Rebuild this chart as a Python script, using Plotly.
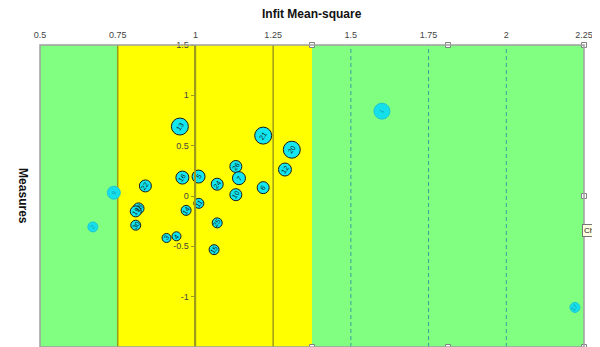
import plotly.graph_objects as go

# ---- data ----
infit = [0.950, 0.958, 1.010, 0.839, 0.817, 0.808, 0.808, 0.970, 1.011, 0.907, 0.939,
         1.060, 1.070, 1.070, 1.218, 1.310, 1.288, 1.130, 1.140, 1.130, 1.218]
measure = [0.69, 0.183, 0.193, 0.10, -0.123, -0.153, -0.29, -0.143, -0.073, -0.417, -0.40,
           -0.533, 0.117, -0.267, 0.60, 0.46, 0.263, 0.293, 0.177, 0.013, 0.083]
size = [17, 13, 13, 12, 11, 11, 10, 10, 10, 9, 9, 10, 12, 10, 17, 17, 13, 12, 13, 12, 12]
labels = ["13", "16", "5", "22", "18", "19", "30", "14", "11", "3", "4",
          "15", "24", "25", "21", "20", "12", "26", "7", "10", "6"]

out_infit = [0.7375, 0.670, 1.600, 2.221]
out_measure = [0.033, -0.307, 0.843, -1.107]
out_size = [13, 10, 16, 10]
out_labels = ["9", "2", "1", "17"]

x_ticks = [0.5, 0.75, 1, 1.25, 1.5, 1.75, 2, 2.25]
y_ticks = [-1.5, -1, -0.5, 0, 0.5, 1, 1.5]

green_bounds = [(0.5, 0.75), (1.375, 2.25)]
yellow_bounds = [(0.75, 1.375)]
solid_lines = [0.75, 1.0, 1.25]
dashed_lines = [1.5, 1.75, 2.0]

XR = [0.5, 2.25]
YR = [-1.5, 1.5]

FONT = "Liberation Sans, Arial, sans-serif"
GREEN = "#80FF80"
YELLOW = "#FFFF00"
OLIVE = "#9C9C1A"
TEAL = "#3A9FA0"

fig = go.Figure()

shapes = []
for x0, x1 in green_bounds:
    shapes.append(dict(type="rect", xref="x", yref="y", x0=x0, x1=x1, y0=YR[0], y1=YR[1],
                       fillcolor=GREEN, line=dict(width=0), layer="below"))
for x0, x1 in yellow_bounds:
    shapes.append(dict(type="rect", xref="x", yref="y", x0=x0, x1=x1, y0=YR[0], y1=YR[1],
                       fillcolor=YELLOW, line=dict(width=0), layer="below"))
for xv in solid_lines:
    shapes.append(dict(type="line", xref="x", yref="y", x0=xv, x1=xv, y0=YR[0], y1=YR[1],
                       line=dict(color=OLIVE, width=1.5), layer="below"))
for xv in dashed_lines:
    shapes.append(dict(type="line", xref="x", yref="y", x0=xv, x1=xv, y0=YR[0], y1=YR[1],
                       line=dict(color=TEAL, width=1, dash="4px,3px"), layer="below"))
shapes.append(dict(type="rect", xref="paper", yref="paper", x0=0, x1=1, y0=0, y1=1,
                   line=dict(color="#A0A0A0", width=1.5), layer="above"))

# bubbles in range
fig.add_trace(go.Scatter(
    x=infit, y=measure, mode="markers",
    marker=dict(size=size, sizemode="diameter", color="#14E6F0", opacity=1,
                line=dict(color="#1a1a1a", width=1)),
    hoverinfo="skip", showlegend=False, cliponaxis=False))

# outlier bubbles
fig.add_trace(go.Scatter(
    x=out_infit, y=out_measure, mode="markers",
    marker=dict(size=out_size, sizemode="diameter", color="#14E0EC", opacity=1,
                line=dict(color="#22C4D2", width=1)),
    hoverinfo="skip", showlegend=False, cliponaxis=False))

# selection handles of the right green region
gx0, gx1 = green_bounds[1]
gmid = (gx0 + gx1) / 2
hx = [gx0, gmid, gx1, gx1, gx1, gmid, gx0]
hy = [YR[1], YR[1], YR[1], (YR[0] + YR[1]) / 2, YR[0], YR[0], YR[0]]
fig.add_trace(go.Scatter(
    x=hx, y=hy, mode="markers",
    marker=dict(symbol="square", size=5, color="white", opacity=1,
                line=dict(color="#808080", width=1)),
    hoverinfo="skip", showlegend=False, cliponaxis=False))

annotations = []
for xv, yv, t in zip(infit, measure, labels):
    annotations.append(dict(x=xv, y=yv, xref="x", yref="y", text=t, showarrow=False,
                            textangle=-55, font=dict(family=FONT, size=7, color="#0a2a2a")))
for xv, yv, t in zip(out_infit, out_measure, out_labels):
    annotations.append(dict(x=xv, y=yv, xref="x", yref="y", text=t, showarrow=False,
                            textangle=-55, font=dict(family=FONT, size=6, color="#1a9aa8")))

annotations.append(dict(x=0.5, y=1.103, xref="paper", yref="paper", yanchor="middle",
                        text="<b>Infit Mean-square</b>",
                        showarrow=False, font=dict(family=FONT, size=12, color="#111111")))
annotations.append(dict(x=-0.048, y=0.5, xref="paper", yref="paper", text="<b>Measures</b>",
                        textangle=90, showarrow=False, font=dict(family=FONT, size=12, color="#111111")))
annotations.append(dict(x=0.9963, y=-0.34, xref="paper", yref="y", text="Chart Area",
                        xanchor="left", showarrow=False, bgcolor="#FFFFE1", bordercolor="#767676",
                        borderwidth=1, borderpad=1, font=dict(family=FONT, size=8, color="#222222")))

# page body has an 8px margin: shrink figure so plot lands where the reference has it
fig.update_layout(
    width=592, height=339,
    margin=dict(l=32, r=16, t=37, b=0),
    paper_bgcolor="white", plot_bgcolor="white",
    shapes=shapes, annotations=annotations,
    xaxis=dict(range=XR, side="top", tickvals=x_ticks, ticktext=[f"{v:g}" for v in x_ticks],
               showgrid=False, zeroline=False, showline=False,
               ticks="outside", ticklen=2, tickcolor="rgba(0,0,0,0)",
               tickfont=dict(family=FONT, size=9, color="#444444")),
    yaxis=dict(range=YR, tickvals=y_ticks, ticktext=[f"{v:g}" for v in y_ticks],
               anchor="free", position=(1.0 - XR[0]) / (XR[1] - XR[0]),
               showgrid=False, zeroline=False, showline=True, linecolor=OLIVE, linewidth=1.5,
               ticks="outside", ticklen=4, tickcolor=OLIVE,
               tickfont=dict(family=FONT, size=9, color="#444444")),
)

fig.write_html("out.html")
